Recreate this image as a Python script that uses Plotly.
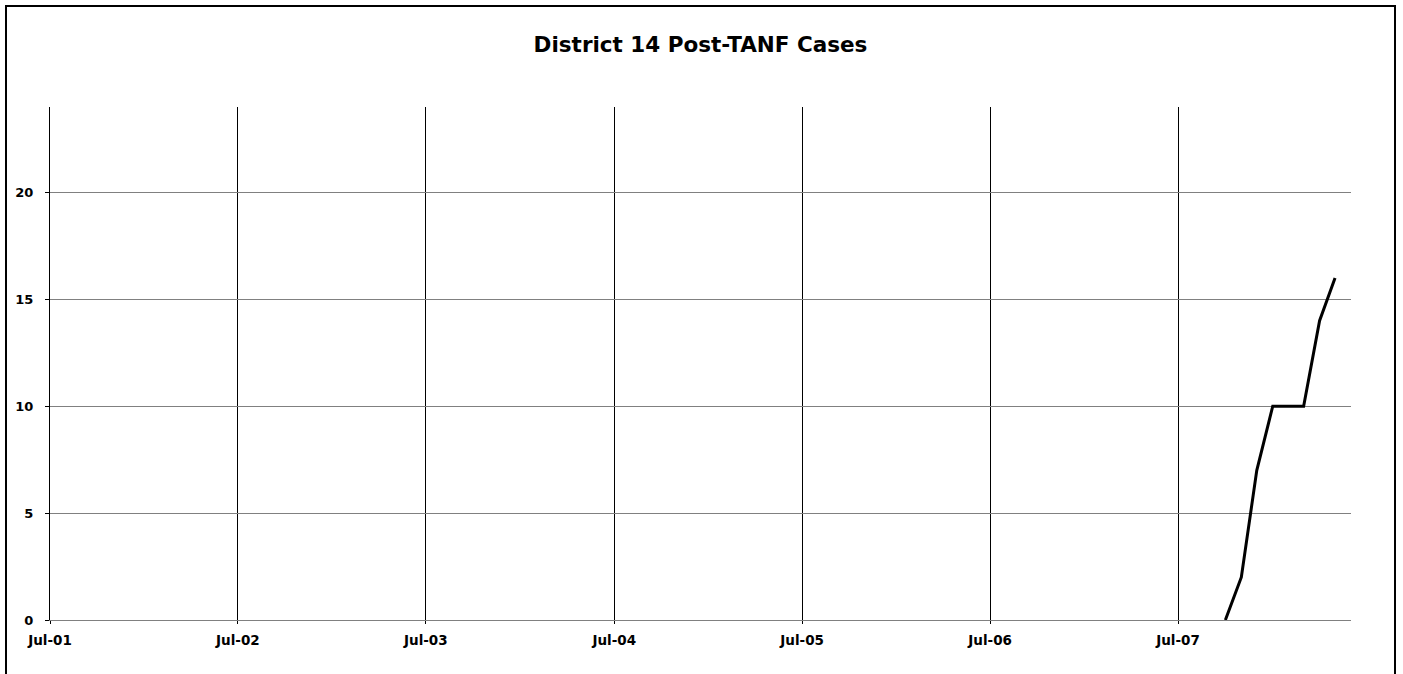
import plotly.graph_objects as go

months = ["2007-10-01", "2007-11-01", "2007-12-01", "2008-01-01",
          "2008-02-01", "2008-03-01", "2008-04-01", "2008-05-01"]
cases = [0, 2, 7, 10, 10, 10, 14, 16]

tick_dates = ["2001-07-01", "2002-07-01", "2003-07-01", "2004-07-01",
              "2005-07-01", "2006-07-01", "2007-07-01"]
tick_labels = ["Jul-01", "Jul-02", "Jul-03", "Jul-04", "Jul-05", "Jul-06", "Jul-07"]
y_ticks = [0, 5, 10, 15, 20]

FONT = "DejaVu Sans, Liberation Sans, Arial"

fig = go.Figure()
fig.add_trace(go.Scatter(x=months, y=cases, mode="lines",
                         line=dict(color="black", width=3), showlegend=False))

L, R, T, B = 50, 52, 107, 54
W, H = 1403, 674
pw = W - L - R
ph = H - T - B

fig.update_layout(
    width=W, height=H,
    margin=dict(l=L, r=R, t=T, b=B),
    paper_bgcolor="white", plot_bgcolor="white",
    title=dict(text="<b>District 14 Post-TANF Cases</b>", x=(L + pw / 2) / W, xanchor="center",
               y=1 - 44.5 / H, yanchor="middle",
               font=dict(family=FONT, size=21.5, color="black")),
    font=dict(family=FONT, color="black"),
    xaxis=dict(type="date", range=["2001-07-01", "2008-06-01"],
               tickvals=tick_dates, ticktext=["<b>%s</b>" % t for t in tick_labels],
               showgrid=True, gridcolor="black", gridwidth=1,
               showline=True, linecolor="#808080", linewidth=1,
               ticks="outside", ticklen=3, tickcolor="black", ticklabelstandoff=5,
               tickfont=dict(family=FONT, size=13.5, color="black"), zeroline=False),
    yaxis=dict(range=[0, 24], tickvals=y_ticks,
               ticktext=["<b>%d</b>" % v for v in y_ticks],
               showgrid=True, gridcolor="#808080", gridwidth=1,
               showline=True, linecolor="black", linewidth=1,
               ticks="outside", ticklen=4, tickcolor="black", ticklabelstandoff=9,
               tickfont=dict(family=FONT, size=13, color="black"), zeroline=False),
    shapes=[dict(type="rect", xref="paper", yref="paper",
                 x0=(6 - L) / pw, x1=(1395 - L) / pw,
                 y0=(H - B - 700) / ph, y1=(H - B - 6) / ph,
                 line=dict(color="black", width=2), fillcolor="rgba(0,0,0,0)", layer="below")],
)

fig.write_html("out.html", config={"displayModeBar": False},
               post_script="document.body.style.margin='0';document.body.style.overflow='hidden';")
